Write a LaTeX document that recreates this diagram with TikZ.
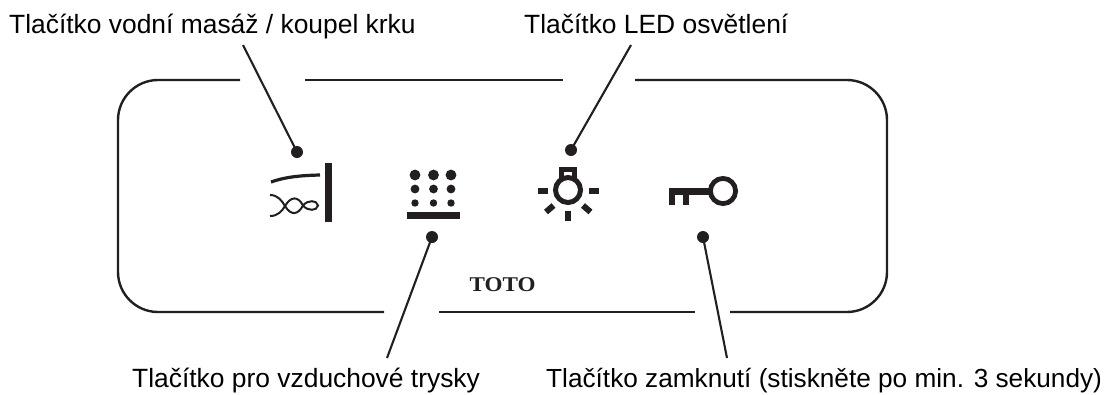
\documentclass[tikz,border=0pt]{standalone}
\usepackage{fontspec}
\setmainfont{Liberation Sans}
\newfontfamily\logofont{Liberation Serif}[FakeStretch=1.1]
\definecolor{ink}{HTML}{231F20}
\tikzset{
  panel/.style={draw=ink,line width=2.4pt,line cap=butt},
  leader/.style={draw=ink,line width=2.1pt},
  dotend/.style={circle,fill=ink,inner sep=0pt,minimum size=12pt},
  lab/.style={font=\fontsize{26.4pt}{30pt}\selectfont,inner sep=0pt,text=black},
  ico/.style={draw=ink,line width=5pt,line cap=butt}
}
\begin{document}
\begin{tikzpicture}[x=1pt,y=-1pt]
\useasboundingbox (0,0) rectangle (1112,394);
% panel
\draw[panel] (240,80) -- (158,80) .. controls (136,80) and (118,98) .. (118,120) -- (118,272) .. controls (118,294) and (136,312) .. (158,312) -- (384,312);
\draw[panel] (305,80) -- (563,80);
\draw[panel] (635,80) -- (847,80) .. controls (869,80) and (887,98) .. (887,120) -- (887,272) .. controls (887,294) and (869,312) .. (847,312) -- (730,312);
\draw[panel] (439,312) -- (695,312);
% labels
\node[lab,anchor=base west] (l1) at (9,33) {Tlačítko vodní masáž / koupel krku};
\node[lab,anchor=base west] (l2) at (524,33) {Tlačítko LED osvětlení};
\node[lab,anchor=base west] (l3) at (132,387) {Tlačítko pro vzduchové trysky};
\node[lab,anchor=base west,font=\fontsize{26.2pt}{30pt}\selectfont] (l4) at (546,387) {Tlačítko zamknutí (stiskněte po min. 3 sekundy)};
\node[inner sep=0pt,anchor=base,font=\logofont\bfseries\fontsize{21pt}{24pt}\selectfont,text=ink] (logo) at (502.5,291) {TOTO};
% leaders
\node[dotend] (d1) at (297,152) {};
\node[dotend] (d2) at (432,237) {};
\node[dotend] (d3) at (571,150) {};
\node[dotend] (d4) at (703,237) {};
\coordinate (e1) at (243,45);
\coordinate (e2) at (631,45);
\coordinate (e3) at (387,358);
\coordinate (e4) at (727,358);
\draw[leader] (d1.center) -- (e1);
\draw[leader] (d2.center) -- (e3);
\draw[leader] (d3.center) -- (e2);
\draw[leader] (d4.center) -- (e4);
% massage icon
\fill[ink] (325,163) rectangle (332,222);
\draw[ink,line width=3.2pt] (271,182) .. controls (285,177) and (300,175.5) .. (320,175);
\draw[ink,line width=2pt] (270,195) .. controls (278,195) and (282,201) .. (285,206) .. controls (282,211) and (278,216) .. (270,216);
\draw[ink,line width=2pt] (285,206) .. controls (291,196) and (298,196) .. (303,205.5) .. controls (298,215) and (291,216) .. (285,206);
\draw[ink,line width=2pt] (303,205.5) .. controls (308,199.5) and (317,200) .. (318,205.5) .. controls (317,211) and (308,211.5) .. (303,205.5);
% jets icon
\foreach \x in {415,433.5,451}{
  \fill[ink] (\x,175) circle[radius=5.4];
  \fill[ink] (\x,189) circle[radius=4.4];
  \fill[ink] (\x,203) circle[radius=3.7];
}
\fill[ink] (407,212) rectangle (460,219);
% bulb icon
\draw[ico] (568,190) circle[radius=12.5];
\draw[ico] (561.5,180) -- (561.5,169.5) -- (574.5,169.5) -- (574.5,180);
\fill[ink] (538,187.5) rectangle (548,193.5);
\fill[ink] (589,187.5) rectangle (599,193.5);
\fill[ink] (565,211) rectangle (571,221);
\draw[ink,line width=6pt] (546,212) -- (553.5,205.5);
\draw[ink,line width=6pt] (590.5,212) -- (583,205.5);
% key icon
\draw[ink,line width=4.8pt] (723,191) circle[radius=12.6];
\fill[ink] (669,188) rectangle (711,195);
\fill[ink] (669,188) rectangle (675,205);
\fill[ink] (683,188) rectangle (689,205);
\end{tikzpicture}
\end{document}
